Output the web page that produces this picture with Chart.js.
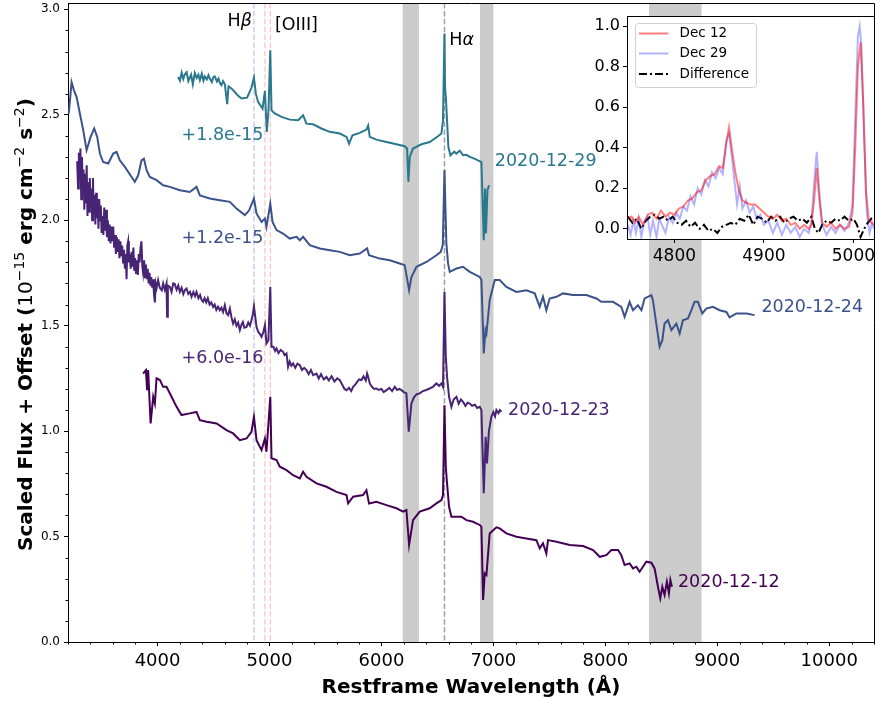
<!DOCTYPE html>
<html>
<head>
<meta charset="utf-8">
<script src="https://cdn.jsdelivr.net/npm/chart.js@4.4.1/dist/chart.umd.min.js"></script>
<style>
  body { margin: 0; background: #fff; }
  #wrap { position: relative; width: 875px; height: 702px; }
  #main { position: absolute; left: 0; top: 0; }
  #inset { position: absolute; left: 560px; top: 0; }
</style>
</head>
<body>
<div id="wrap">
  <canvas id="main" width="875" height="702"></canvas>
  <canvas id="inset" width="315" height="280"></canvas>
</div>
<script>
// Spectra: restframe wavelength (A) and scaled flux (1e-15), offsets added at plot time

const offsets = { d1212: 0.0, d1223: 0.6, d1224: 1.2, d1229: 1.8 };

const wave1229 = [4184,4200,4215,4230,4244,4260,4275,4288,4300,4315,4333,4350,4365,4378,4395,4410,4422,4440,4455,4467,4485,4500,4512,4530,4545,4556,4570,4585,4601,4622,4634,4660,4690,4720,4750,4800,4839,4861,4878,4898,4938,4959,4976,4991,5007,5018,5047,5107,5181,5256,5300,5330,5389,5464,5538,5628,5688,5711,5741,5806,5866,5881,5896,5955,6045,6134,6208,6229,6241,6253,6282,6357,6431,6505,6536,6550,6563,6568,6577,6586,6598,6616,6650,6670,6700,6729,6760,6789,6840,6893,6914,6925,6934,6947,6961];
const flux1229 = [0.879,0.862,0.900,0.870,0.892,0.902,0.860,0.876,0.890,0.845,0.898,0.875,0.890,0.864,0.895,0.862,0.882,0.868,0.888,0.872,0.855,0.880,0.882,0.858,0.872,0.851,0.840,0.860,0.845,0.750,0.835,0.825,0.808,0.790,0.777,0.781,0.829,0.876,0.800,0.761,0.729,0.813,0.619,0.721,1.006,0.721,0.706,0.690,0.677,0.674,0.698,0.658,0.655,0.635,0.619,0.611,0.595,0.563,0.603,0.614,0.630,0.649,0.595,0.582,0.571,0.560,0.551,0.540,0.382,0.500,0.540,0.560,0.571,0.598,0.611,0.674,1.085,0.832,0.769,0.674,0.547,0.508,0.525,0.516,0.530,0.508,0.510,0.500,0.490,0.476,0.105,0.350,0.137,0.342,0.366];

const wave1224 = [3207,3232,3253,3277,3306,3336,3366,3402,3434,3461,3485,3514,3559,3604,3634,3663,3708,3768,3797,3827,3857,3878,3902,3931,3991,4050,4110,4199,4288,4348,4378,4467,4556,4646,4705,4780,4818,4861,4884,4929,4959,4973,5007,5027,5063,5121,5181,5241,5271,5300,5360,5449,5539,5628,5717,5806,5872,5889,5985,6074,6163,6208,6247,6268,6313,6402,6491,6530,6548,6563,6580,6595,6610,6670,6729,6789,6878,6893,6914,6929,6938,6967,7012,7056,7116,7205,7295,7369,7414,7443,7473,7503,7563,7622,7711,7830,7920,7964,8068,8143,8172,8217,8247,8291,8322,8351,8411,8425,8455,8485,8509,8529,8559,8590,8634,8664,8693,8738,8768,8797,8827,8866,8902,8961,9021,9081,9110,9170,9259,9333];
const flux1224 = [1.306,1.455,1.416,1.384,1.306,1.227,1.132,1.195,1.235,1.195,1.116,1.076,1.069,1.116,1.124,1.084,1.053,1.005,0.982,1.013,1.084,1.092,1.037,1.005,0.990,0.966,0.958,0.942,0.934,0.958,0.918,0.903,0.895,0.887,0.855,0.824,0.847,0.903,0.832,0.792,0.808,0.768,0.879,0.792,0.753,0.737,0.713,0.721,0.705,0.721,0.682,0.666,0.658,0.650,0.634,0.642,0.666,0.634,0.618,0.610,0.595,0.587,0.468,0.531,0.579,0.602,0.634,0.650,0.682,1.037,0.690,0.595,0.555,0.571,0.579,0.555,0.531,0.516,0.168,0.279,0.263,0.421,0.516,0.516,0.484,0.460,0.468,0.453,0.389,0.437,0.373,0.429,0.437,0.453,0.445,0.445,0.429,0.413,0.413,0.389,0.342,0.413,0.373,0.397,0.373,0.429,0.445,0.421,0.310,0.200,0.231,0.310,0.326,0.279,0.310,0.263,0.326,0.334,0.373,0.413,0.413,0.358,0.381,0.389,0.373,0.365,0.339,0.358,0.358,0.350];

const wave1223 = [3282,3290,3297,3304,3311,3318,3325,3332,3339,3346,3353,3360,3367,3374,3381,3388,3395,3402,3409,3416,3423,3430,3437,3444,3451,3458,3465,3472,3479,3486,3493,3500,3508,3516,3524,3532,3540,3548,3556,3564,3572,3580,3588,3596,3604,3612,3620,3628,3636,3644,3652,3660,3668,3676,3684,3692,3700,3708,3716,3723,3730,3737,3744,3752,3760,3768,3776,3784,3792,3800,3808,3816,3824,3832,3840,3848,3856,3864,3871,3880,3888,3896,3904,3912,3920,3928,3936,3944,3952,3960,3968,3976,3984,3992,4005,4020,4038,4050,4065,4080,4085,4092,4110,4125,4140,4154,4170,4185,4199,4215,4230,4245,4259,4275,4290,4304,4320,4335,4348,4365,4380,4395,4407,4420,4435,4449,4465,4480,4496,4510,4525,4540,4556,4570,4585,4601,4615,4630,4646,4660,4675,4690,4705,4720,4735,4750,4762,4775,4795,4810,4825,4839,4850,4861,4884,4900,4915,4929,4945,4959,4973,4990,5007,5018,5035,5050,5063,5080,5100,5121,5135,5152,5166,5180,5195,5211,5230,5250,5271,5290,5310,5330,5350,5370,5390,5420,5440,5460,5485,5509,5530,5555,5580,5605,5628,5650,5670,5688,5710,5730,5747,5765,5785,5800,5822,5840,5860,5872,5880,5896,5915,5935,5955,5975,6000,6020,6045,6070,6095,6119,6140,6160,6179,6200,6223,6244,6268,6290,6315,6342,6370,6400,6431,6460,6491,6515,6536,6550,6563,6575,6586,6604,6625,6645,6670,6690,6710,6729,6750,6770,6789,6810,6835,6855,6878,6893,6914,6931,6943,6960,6982,7000,7015,7027,7045,7058,7072];
const flux1223 = [1.68,1.55,1.72,1.60,1.74,1.50,1.70,1.52,1.64,1.45,1.62,1.48,1.66,1.42,1.58,1.44,1.60,1.46,1.55,1.40,1.60,1.43,1.52,1.38,1.53,1.41,1.50,1.36,1.50,1.40,1.47,1.34,1.42,1.33,1.46,1.35,1.45,1.32,1.40,1.30,1.38,1.29,1.37,1.30,1.37,1.27,1.33,1.24,1.32,1.25,1.31,1.22,1.30,1.23,1.28,1.20,1.26,1.17,1.24,1.12,1.28,1.30,1.20,1.24,1.17,1.25,1.18,1.27,1.16,1.22,1.15,1.21,1.14,1.24,1.20,1.27,1.30,1.18,1.15,1.21,1.13,1.19,1.12,1.17,1.10,1.15,1.09,1.13,1.08,1.12,1.05,1.01,1.10,1.08,1.116,1.08,1.068,1.10,1.07,1.100,0.942,1.09,1.084,1.06,1.10,1.097,1.07,1.09,1.060,1.08,1.05,1.07,1.076,1.05,1.06,1.037,1.06,1.04,1.060,1.03,1.045,1.02,1.013,1.03,1.01,1.030,1.00,1.01,0.989,1.00,0.975,0.99,0.973,0.985,0.965,0.997,0.96,0.950,0.981,0.94,0.910,0.93,0.90,0.915,0.879,0.905,0.917,0.89,0.894,0.915,0.90,0.926,0.95,0.992,0.894,0.87,0.86,0.847,0.87,0.902,0.816,0.83,1.084,0.800,0.80,0.78,0.792,0.77,0.785,0.776,0.76,0.768,0.705,0.73,0.71,0.721,0.70,0.72,0.713,0.69,0.70,0.689,0.67,0.69,0.665,0.673,0.65,0.67,0.645,0.657,0.64,0.66,0.635,0.65,0.642,0.62,0.60,0.594,0.605,0.59,0.610,0.62,0.635,0.645,0.642,0.66,0.64,0.673,0.66,0.626,0.61,0.60,0.602,0.595,0.60,0.585,0.594,0.605,0.59,0.610,0.595,0.60,0.594,0.585,0.579,0.397,0.531,0.56,0.575,0.579,0.59,0.595,0.602,0.61,0.626,0.615,0.626,0.610,1.060,0.752,0.657,0.563,0.515,0.55,0.563,0.53,0.55,0.539,0.52,0.535,0.531,0.52,0.525,0.51,0.515,0.500,0.105,0.373,0.247,0.40,0.468,0.49,0.47,0.500,0.485,0.50,0.491];

const wave1212 = [3871,3896,3907,3916,3938,3961,3976,3991,4021,4050,4080,4125,4170,4214,4288,4348,4378,4438,4527,4616,4675,4735,4795,4839,4861,4884,4929,4959,4973,5007,5018,5063,5092,5152,5211,5271,5300,5330,5420,5509,5598,5688,5702,5747,5836,5866,5889,5955,6045,6134,6193,6223,6247,6282,6342,6431,6491,6536,6550,6563,6575,6586,6604,6625,6670,6714,6759,6818,6878,6893,6908,6923,6938,6967,7027,7056,7116,7205,7295,7384,7414,7443,7473,7488,7563,7682,7801,7890,7950,8009,8054,8113,8143,8172,8217,8247,8277,8306,8336,8366,8411,8440,8470,8491,8509,8529,8550,8568,8581,8595];
const flux1212 = [1.273,1.289,1.194,1.289,1.036,1.163,1.131,1.250,1.242,1.210,1.210,1.163,1.115,1.076,1.084,1.091,1.052,1.044,1.036,1.005,0.989,0.957,0.965,0.997,1.068,0.957,0.910,0.965,0.902,1.163,0.871,0.863,0.831,0.815,0.791,0.776,0.807,0.783,0.752,0.736,0.712,0.697,0.657,0.689,0.697,0.720,0.657,0.665,0.649,0.634,0.618,0.626,0.460,0.578,0.618,0.634,0.657,0.673,0.697,1.123,0.831,0.752,0.641,0.594,0.594,0.594,0.578,0.570,0.555,0.546,0.199,0.326,0.318,0.515,0.544,0.539,0.515,0.499,0.491,0.483,0.444,0.468,0.420,0.483,0.475,0.460,0.455,0.436,0.404,0.412,0.436,0.436,0.412,0.365,0.373,0.349,0.357,0.333,0.357,0.381,0.376,0.349,0.262,0.207,0.262,0.223,0.286,0.231,0.294,0.262];

// Inset: normalised flux around Hbeta / [OIII]
const waveDec12 = [4748,4752,4756,4760,4765,4770,4775,4780,4785,4790,4795,4800,4805,4810,4815,4820,4825,4830,4835,4840,4845,4850,4854,4858,4861,4864,4868,4872,4876,4880,4885,4890,4895,4900,4905,4910,4915,4920,4925,4930,4935,4940,4945,4950,4953,4956,4959,4962,4965,4970,4975,4980,4985,4990,4995,4999,5002,5005,5008,5011,5014,5017,5020,5023];
const normDec12 = [0.05,0.06,0.03,0.06,0.02,0.07,0.08,0.05,0.09,0.06,0.08,0.07,0.10,0.11,0.14,0.15,0.18,0.19,0.24,0.26,0.27,0.31,0.30,0.42,0.50,0.40,0.28,0.19,0.14,0.13,0.12,0.12,0.10,0.08,0.06,0.05,0.07,0.04,0.05,0.02,0.03,0.00,0.02,0.00,0.02,0.14,0.30,0.14,0.03,0.01,0.03,0.00,0.02,0.00,0.01,0.08,0.40,0.80,0.92,0.62,0.18,0.05,0.03,0.02];
const waveDec29 = [4748,4751,4754,4757,4760,4763,4766,4770,4773,4776,4780,4783,4787,4790,4794,4798,4802,4806,4810,4814,4818,4822,4826,4830,4834,4838,4842,4846,4850,4854,4858,4861,4864,4867,4870,4873,4876,4880,4884,4888,4892,4896,4900,4905,4910,4915,4920,4925,4930,4935,4940,4945,4950,4953,4956,4959,4962,4965,4970,4975,4980,4985,4990,4995,4999,5002,5005,5007,5009,5012,5015,5018,5021,5023];
const normDec29 = [0.02,-0.03,0.04,-0.02,0.05,-0.04,0.03,0.06,-0.03,0.04,-0.04,0.05,0.01,-0.02,0.06,0.03,0.08,0.05,0.11,0.09,0.16,0.12,0.20,0.17,0.24,0.21,0.28,0.25,0.30,0.27,0.44,0.47,0.36,0.24,0.12,0.21,0.10,0.14,0.08,0.11,0.05,0.07,0.02,0.04,-0.02,0.03,-0.03,0.02,-0.02,0.01,-0.04,0.00,-0.02,0.03,0.22,0.38,0.18,0.02,-0.03,0.01,-0.02,0.02,-0.01,0.03,0.12,0.55,0.95,1.00,0.90,0.45,0.08,-0.02,0.03,0.00];
const waveDiff = [4748,4753,4758,4763,4768,4773,4778,4783,4788,4793,4798,4803,4808,4813,4818,4823,4828,4833,4838,4843,4848,4853,4858,4863,4868,4873,4878,4883,4888,4893,4898,4903,4908,4913,4918,4923,4928,4933,4938,4943,4948,4953,4957,4961,4965,4970,4975,4980,4985,4990,4995,5000,5004,5008,5012,5016,5020,5023];
const normDiff = [0.06,0.03,0.05,0.00,0.04,0.06,0.07,0.05,0.06,0.04,0.06,0.03,0.02,0.04,0.01,0.03,0.00,0.02,-0.01,0.00,-0.02,0.01,0.02,0.03,0.02,0.05,0.04,0.07,0.02,0.06,0.05,0.03,0.06,0.04,0.06,0.03,0.05,0.06,0.04,0.05,0.03,0.06,0.00,-0.02,0.02,0.04,0.03,0.05,0.04,0.06,0.04,0.05,0.02,-0.04,0.00,0.03,0.05,0.04];

// axes
const xTicks = [4000, 5000, 6000, 7000, 8000, 9000, 10000];
const yTicks = [0.0, 0.5, 1.0, 1.5, 2.0, 2.5, 3.0];
const insetXTicks = [4800, 4900, 5000];
const insetYTicks = [0.0, 0.2, 0.4, 0.6, 0.8, 1.0];

// telluric bands and line markers
const bands = [[6190, 6335], [6880, 7000], [8390, 8860]];
const lineWaves = [4861, 4959, 5007, 6563];
const lineColors = ['#ccccf5', '#ffcccc', '#ffcccc', '#a0a0a0'];

const colors = { d1212: '#440154', d1223: '#482475', d1224: '#3b528b', d1229: '#2a788e' };

Chart.defaults.font.family = "'DejaVu Sans', sans-serif";

function toPoints(w, f, off) {
    return w.map((v, i) => ({ x: v, y: f[i] + off }));
}

function drawRuns(ctx, runs, x, y, align) {
    let w = 0;
    runs.forEach(r => { ctx.font = r.font; r.w = ctx.measureText(r.t).width; w += r.w; });
    let cx = align === 'center' ? x - w / 2 : (align === 'right' ? x - w : x);
    ctx.textAlign = 'left';
    ctx.textBaseline = 'alphabetic';
    runs.forEach(r => { ctx.font = r.font; ctx.fillText(r.t, cx, y + (r.dy || 0)); cx += r.w; });
}

// keep the plot box where we put it (no extra room for edge tick labels)
function noPad(s) {
    s.paddingTop = 0; s.paddingBottom = 0; s.paddingLeft = 0; s.paddingRight = 0;
}

const F = '17.5px "DejaVu Sans"';
const FI = 'italic 17.5px "DejaVu Sans"';

// text placed in data coordinates
const labels = [
    { x: 4843, y: 2.919, align: 'right', color: '#000', runs: [{ t: 'H', font: F }, { t: 'β', font: FI }] },
    { x: 5049, y: 2.903, align: 'left', color: '#000', runs: [{ t: '[OIII]', font: F }] },
    { x: 6606, y: 2.832, align: 'left', color: '#000', runs: [{ t: 'H', font: F }, { t: 'α', font: FI }] },
    { x: 4215, y: 2.382, align: 'left', color: colors.d1229, runs: [{ t: '+1.8e-15', font: F }] },
    { x: 4215, y: 1.891, align: 'left', color: colors.d1224, runs: [{ t: '+1.2e-15', font: F }] },
    { x: 4215, y: 1.321, align: 'left', color: colors.d1223, runs: [{ t: '+6.0e-16', font: F }] },
    { x: 7013, y: 2.257, align: 'left', color: colors.d1229, runs: [{ t: '2020-12-29', font: F }] },
    { x: 9394, y: 1.565, align: 'left', color: colors.d1224, runs: [{ t: '2020-12-24', font: F }] },
    { x: 7131, y: 1.076, align: 'left', color: colors.d1223, runs: [{ t: '2020-12-23', font: F }] },
    { x: 8649, y: 0.259, align: 'left', color: colors.d1212, runs: [{ t: '2020-12-12', font: F }] }
];

const mainDecor = {
    id: 'mainDecor',
    beforeDatasetsDraw(chart) {
        const { ctx, chartArea: a, scales: { x } } = chart;
        ctx.save();
        ctx.beginPath();
        ctx.rect(a.left, a.top, a.right - a.left, a.bottom - a.top);
        ctx.clip();
        ctx.fillStyle = '#cccccc';
        bands.forEach(b => {
            const x0 = x.getPixelForValue(b[0]);
            const x1 = x.getPixelForValue(b[1]);
            ctx.fillRect(x0, a.top, x1 - x0, a.bottom - a.top);
        });
        ctx.lineWidth = 1.5;
        ctx.setLineDash([5.5, 2.4]);
        lineWaves.forEach((w, i) => {
            const px = x.getPixelForValue(w);
            ctx.strokeStyle = lineColors[i];
            ctx.beginPath();
            ctx.moveTo(px, a.top);
            ctx.lineTo(px, a.bottom);
            ctx.stroke();
        });
        ctx.restore();
    },
    afterDraw(chart) {
        const { ctx, chartArea: a, scales: { x, y } } = chart;
        ctx.save();
        // top / right spines
        ctx.strokeStyle = '#000';
        ctx.lineWidth = 1;
        ctx.beginPath();
        ctx.moveTo(a.left, a.top + 0.5);
        ctx.lineTo(a.right + 0.5, a.top + 0.5);
        ctx.lineTo(a.right + 0.5, a.bottom);
        ctx.stroke();
        // minor ticks
        ctx.beginPath();
        for (let v = 3200; v <= 10400; v += 200) {
            if (v % 1000 === 0) continue;
            const px = Math.round(x.getPixelForValue(v)) + 0.5;
            ctx.moveTo(px, a.bottom);
            ctx.lineTo(px, a.bottom + 2.5);
        }
        for (let k = 0; k <= 30; k++) {
            if (k % 5 === 0) continue;
            const py = Math.round(y.getPixelForValue(k / 10)) + 0.5;
            ctx.moveTo(a.left, py);
            ctx.lineTo(a.left - 2.5, py);
        }
        ctx.stroke();
        // annotations
        labels.forEach(l => {
            ctx.fillStyle = l.color;
            drawRuns(ctx, l.runs, x.getPixelForValue(l.x), y.getPixelForValue(l.y), l.align);
        });
        // axis titles
        ctx.fillStyle = '#000';
        drawRuns(ctx, [{ t: 'Restframe Wavelength (Å)', font: 'bold 20px "DejaVu Sans"' }],
            (a.left + a.right) / 2, 693, 'center');
        ctx.translate(31.5, (a.top + a.bottom) / 2 + 2);
        ctx.rotate(-Math.PI / 2);
        const B = 'bold 20px "DejaVu Sans"';
        const R = '20px "DejaVu Sans"';
        const S = '14px "DejaVu Sans"';
        drawRuns(ctx, [
            { t: 'Scaled Flux + Offset (', font: B },
            { t: '10', font: R },
            { t: '−15', font: S, dy: -8 },
            { t: ' erg cm', font: B },
            { t: '−2', font: S, dy: -8 },
            { t: ' s', font: B },
            { t: '−2', font: S, dy: -8 },
            { t: ')', font: B }
        ], 0, 0, 'center');
        ctx.restore();
    }
};

new Chart(document.getElementById('main'), {
    type: 'line',
    data: {
        datasets: [
            { label: '2020-12-12', data: toPoints(wave1212, flux1212, offsets.d1212), borderColor: colors.d1212 },
            { label: '2020-12-23', data: toPoints(wave1223, flux1223, offsets.d1223), borderColor: colors.d1223 },
            { label: '2020-12-24', data: toPoints(wave1224, flux1224, offsets.d1224), borderColor: colors.d1224 },
            { label: '2020-12-29', data: toPoints(wave1229, flux1229, offsets.d1229), borderColor: colors.d1229 }
        ]
    },
    options: {
        responsive: false,
        animation: false,
        devicePixelRatio: 1,
        layout: { padding: { top: 3, right: 1, left: 0, bottom: 0 } },
        plugins: { legend: { display: false }, tooltip: { enabled: false } },
        elements: { point: { radius: 0 }, line: { borderWidth: 2, tension: 0 } },
        scales: {
            x: {
                type: 'linear', min: 3200, max: 10400,
                afterBuildTicks: s => { s.ticks = xTicks.map(v => ({ value: v })); },
                afterFit: s => { s.height = 60; noPad(s); },
                grid: { drawOnChartArea: false, drawTicks: true, tickLength: 4, color: '#000' },
                border: { color: '#000', width: 1 },
                ticks: { font: { size: 18 }, color: '#000', padding: 5, maxRotation: 0, callback: v => String(v) }
            },
            y: {
                type: 'linear', min: 0, max: 3.03,
                afterBuildTicks: s => { s.ticks = yTicks.map(v => ({ value: v })); },
                afterFit: s => { s.width = 68; noPad(s); },
                grid: { drawOnChartArea: false, drawTicks: true, tickLength: 4, color: '#000' },
                border: { color: '#000', width: 1 },
                ticks: { font: { size: 12 }, color: '#000', padding: 4, callback: v => v.toFixed(1) }
            }
        }
    },
    plugins: [mainDecor]
});

// ---- inset ----
const insetDecor = {
    id: 'insetDecor',
    beforeDraw(chart) {
        const { ctx, chartArea: a } = chart;
        ctx.save();
        ctx.fillStyle = '#fff';
        ctx.fillRect(a.left, a.top, a.right - a.left, a.bottom - a.top);
        ctx.restore();
    },
    afterDraw(chart) {
        const { ctx, chartArea: a } = chart;
        ctx.save();
        ctx.strokeStyle = '#000';
        ctx.lineWidth = 1;
        ctx.beginPath();
        ctx.moveTo(a.left, a.top + 0.5);
        ctx.lineTo(a.right + 0.5, a.top + 0.5);
        ctx.lineTo(a.right + 0.5, a.bottom);
        ctx.stroke();
        // legend
        const lx = 75, ly = 23, lw = 121, lh = 64;
        ctx.fillStyle = 'rgba(255,255,255,0.8)';
        ctx.strokeStyle = '#d0d0d0';
        ctx.beginPath();
        ctx.roundRect(lx + 0.5, ly + 0.5, lw, lh, 3);
        ctx.fill();
        ctx.stroke();
        const rows = [
            { t: 'Dec 12', c: 'rgba(255,0,0,0.5)', dash: [] },
            { t: 'Dec 29', c: 'rgba(0,0,255,0.3)', dash: [] },
            { t: 'Difference', c: '#000', dash: [8, 3, 2, 3] }
        ];
        const rowY = [33.5, 53.5, 74];
        rows.forEach((r, i) => {
            ctx.strokeStyle = r.c;
            ctx.lineWidth = 2;
            ctx.setLineDash(r.dash);
            ctx.beginPath();
            ctx.moveTo(79, rowY[i]);
            ctx.lineTo(108.5, rowY[i]);
            ctx.stroke();
            ctx.setLineDash([]);
            ctx.fillStyle = '#000';
            ctx.font = '13.5px "DejaVu Sans"';
            ctx.textAlign = 'left';
            ctx.textBaseline = 'middle';
            ctx.fillText(r.t, 119.5, rowY[i]);
        });
        ctx.restore();
    }
};

new Chart(document.getElementById('inset'), {
    type: 'line',
    data: {
        datasets: [
            { label: 'Dec 12', data: toPoints(waveDec12, normDec12, 0), borderColor: 'rgba(255,0,0,0.5)' },
            { label: 'Dec 29', data: toPoints(waveDec29, normDec29, 0), borderColor: 'rgba(0,0,255,0.3)' },
            { label: 'Difference', data: toPoints(waveDiff, normDiff, 0), borderColor: '#000', borderDash: [8, 3, 2, 3] }
        ]
    },
    options: {
        responsive: false,
        animation: false,
        devicePixelRatio: 1,
        layout: { padding: { top: 16, right: 1, left: 0, bottom: 0 } },
        plugins: { legend: { display: false }, tooltip: { enabled: false } },
        elements: { point: { radius: 0 }, line: { borderWidth: 2, tension: 0 } },
        scales: {
            x: {
                type: 'linear', min: 4747, max: 5023,
                afterBuildTicks: s => { s.ticks = insetXTicks.map(v => ({ value: v })); },
                afterFit: s => { s.height = 41; noPad(s); },
                grid: { drawOnChartArea: false, drawTicks: true, tickLength: 4, color: '#000' },
                border: { color: '#000', width: 1 },
                ticks: { font: { size: 17 }, color: '#000', padding: 3, maxRotation: 0, callback: v => String(v) }
            },
            y: {
                type: 'linear', min: -0.05, max: 1.05,
                afterBuildTicks: s => { s.ticks = insetYTicks.map(v => ({ value: v })); },
                afterFit: s => { s.width = 67; noPad(s); },
                grid: { drawOnChartArea: false, drawTicks: true, tickLength: 4, color: '#000' },
                border: { color: '#000', width: 1 },
                ticks: { font: { size: 16 }, color: '#000', padding: 3, callback: v => v.toFixed(1) }
            }
        }
    },
    plugins: [insetDecor]
});
</script>
</body>
</html>
